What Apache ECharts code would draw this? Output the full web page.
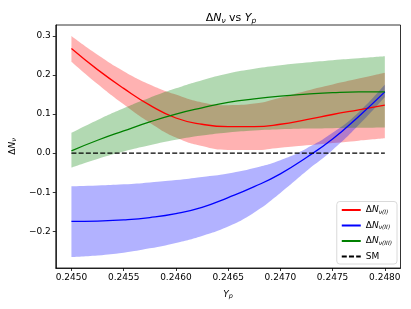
<!DOCTYPE html>
<html>
<head>
<meta charset="utf-8">
<script src="https://cdn.jsdelivr.net/npm/echarts@6/dist/echarts.min.js"></script>
<style>
  html, body { margin: 0; padding: 0; background: #fff; }
  #chart { width: 411px; height: 309px; }
</style>
</head>
<body>
<div id="chart"></div>
<script>
  // Y_p sample points
  var yp = [0.24500, 0.24525, 0.24550, 0.24575, 0.24600, 0.24625, 0.24650,
            0.24675, 0.24700, 0.24725, 0.24750, 0.24775, 0.24800];

  // Delta N_nu(I), red
  var nuI    = [0.268, 0.214, 0.166, 0.123, 0.090, 0.074, 0.068, 0.068, 0.074, 0.086, 0.099, 0.111, 0.123];
  var nuIUp  = [0.300, 0.252, 0.210, 0.176, 0.150, 0.130, 0.123, 0.127, 0.142, 0.160, 0.176, 0.191, 0.206];
  var nuILo  = [0.234, 0.177, 0.125, 0.078, 0.040, 0.018, 0.008, 0.008, 0.014, 0.020, 0.026, 0.032, 0.038];

  // Delta N_nu(II), blue
  var nuII   = [-0.175, -0.174, -0.171, -0.165, -0.155, -0.139, -0.114, -0.086, -0.053, -0.011, 0.036, 0.094, 0.157];
  var nuIIUp = [-0.085, -0.083, -0.080, -0.075, -0.069, -0.061, -0.052, -0.038, -0.018, 0.012, 0.052, 0.105, 0.176];
  var nuIILo = [-0.266, -0.262, -0.255, -0.244, -0.230, -0.212, -0.188, -0.152, -0.102, -0.046, 0.008, 0.072, 0.144];

  // Delta N_nu(III), green
  var nuIII   = [0.006, 0.033, 0.057, 0.080, 0.100, 0.116, 0.130, 0.139, 0.146, 0.151, 0.155, 0.157, 0.157];
  var nuIIIUp = [0.052, 0.085, 0.115, 0.142, 0.166, 0.187, 0.204, 0.216, 0.225, 0.232, 0.238, 0.243, 0.248];
  var nuIIILo = [-0.037, -0.015, 0.004, 0.020, 0.034, 0.045, 0.053, 0.058, 0.061, 0.063, 0.064, 0.065, 0.066];

  var smLevel = 0.0;
  var xTicks = [0.2450, 0.2455, 0.2460, 0.2465, 0.2470, 0.2475, 0.2480];
  var yTicks = [-0.2, -0.1, 0.0, 0.1, 0.2, 0.3];

  var font = 'DejaVu Sans';

  function pairs(ys) {
    return yp.map(function (x, i) { return [x, ys[i]]; });
  }
  // value first so the stack runs on y (stacks by index on a value axis)
  function flipped(ys) {
    return yp.map(function (x, i) { return [ys[i], x]; });
  }
  function band(id, up, lo, color) {
    var width = up.map(function (u, i) { return +(u - lo[i]).toFixed(4); });
    return [{
      type: 'line', stack: id, stackStrategy: 'all', data: flipped(lo),
      encode: { x: 1, y: 0 },
      symbol: 'none', smooth: true, silent: true, z: 1,
      lineStyle: { opacity: 0 }
    }, {
      type: 'line', stack: id, stackStrategy: 'all', data: flipped(width),
      encode: { x: 1, y: 0 },
      symbol: 'none', smooth: true, silent: true, z: 1,
      lineStyle: { opacity: 0 },
      areaStyle: { color: color, opacity: 0.3 }
    }];
  }
  function line(name, ys, color) {
    return {
      name: name, type: 'line', data: pairs(ys), symbol: 'none', smooth: true, z: 3,
      lineStyle: { color: color, width: 1.3 }, itemStyle: { color: color }
    };
  }

  var labels = {
    'I': '{d|Δ}{n|N}{s|ν(I)}',
    'II': '{d|Δ}{n|N}{s|ν(II)}',
    'III': '{d|Δ}{n|N}{s|ν(III)}',
    'SM': 'SM'
  };

  var chart = echarts.init(document.getElementById('chart'));
  var series = []
    .concat(band('b1', nuIUp, nuILo, '#ff0000'))
    .concat(band('b2', nuIIUp, nuIILo, '#0000ff'))
    .concat(band('b3', nuIIIUp, nuIIILo, '#008000'));
  series.push(line('I', nuI, '#ff0000'));
  series.push(line('II', nuII, '#0000ff'));
  series.push(line('III', nuIII, '#008000'));
  series.push({
    name: 'SM', type: 'line', symbol: 'none', z: 3,
    data: [[yp[0], smLevel], [yp[yp.length - 1], smLevel]],
    lineStyle: { color: '#000', width: 1.3, type: [5, 2.2] }, itemStyle: { color: '#000' }
  });

  chart.setOption({
    animation: false,
    backgroundColor: '#fff',
    title: {
      text: '{d|Δ}{n|N}{s|ν}{t| vs }{n|Y}{s|p}',
      left: 226, top: 7, textAlign: 'center',
      textStyle: {
        fontFamily: font, fontSize: 11, fontWeight: 'normal', color: '#000',
        rich: {
          d: { fontFamily: font, fontSize: 11 },
          t: { fontFamily: font, fontSize: 11 },
          n: { fontFamily: font, fontSize: 11, fontStyle: 'italic' },
          s: { fontFamily: font, fontSize: 7.5, fontStyle: 'italic', padding: [5, 0, 0, 0] }
        }
      }
    },
    grid: {
      left: 52, right: 10.5, top: 25, bottom: 41,
      show: true, borderColor: '#000', borderWidth: 0.8, backgroundColor: 'transparent'
    },
    legend: {
      data: ['I', 'II', 'III', 'SM'],
      orient: 'vertical', right: 14, bottom: 45,
      itemWidth: 19, itemHeight: 8, itemGap: 6,
      padding: [4, 5, 3, 4],
      borderColor: '#d0d0d0', borderWidth: 0.8, borderRadius: 3,
      backgroundColor: 'rgba(255,255,255,0.8)',
      itemStyle: { opacity: 0 },
      formatter: function (n) { return labels[n]; },
      textStyle: {
        fontFamily: font, fontSize: 9, color: '#000',
        rich: {
          d: { fontFamily: font, fontSize: 9 },
          n: { fontFamily: font, fontSize: 9, fontStyle: 'italic' },
          s: { fontFamily: font, fontSize: 6, fontStyle: 'italic', padding: [4, 0, 0, 0] }
        }
      }
    },
    xAxis: {
      type: 'value', min: 0.24485, max: 0.24815,
      name: '{n|Y}{s|p}', nameLocation: 'middle', nameGap: 21,
      nameTextStyle: {
        fontFamily: font, fontSize: 9, color: '#000',
        rich: {
          n: { fontFamily: font, fontSize: 9, fontStyle: 'italic' },
          s: { fontFamily: font, fontSize: 6.5, fontStyle: 'italic', padding: [4, 0, 0, 0] }
        }
      },
      axisLine: { show: true, onZero: false, lineStyle: { color: '#000', width: 0.8 } },
      axisTick: { show: true, customValues: xTicks, length: 3, lineStyle: { color: '#000', width: 0.8 } },
      axisLabel: {
        customValues: xTicks, fontFamily: font, fontSize: 9, color: '#000', margin: 5,
        formatter: function (v) { return v.toFixed(4); }
      },
      splitLine: { show: false }
    },
    yAxis: {
      type: 'value', min: -0.2943, max: 0.3283,
      name: '{d|Δ}{n|N}{s|ν}', nameLocation: 'middle', nameGap: 30, nameRotate: 90,
      nameTextStyle: {
        fontFamily: font, fontSize: 9, color: '#000',
        rich: {
          d: { fontFamily: font, fontSize: 9 },
          n: { fontFamily: font, fontSize: 9, fontStyle: 'italic' },
          s: { fontFamily: font, fontSize: 6.5, fontStyle: 'italic', padding: [4, 0, 0, 0] }
        }
      },
      axisLine: { show: true, onZero: false, lineStyle: { color: '#000', width: 0.8 } },
      axisTick: { show: true, customValues: yTicks, length: 3, lineStyle: { color: '#000', width: 0.8 } },
      axisLabel: {
        customValues: yTicks, fontFamily: font, fontSize: 9, color: '#000', margin: 5,
        formatter: function (v) { return (v < -1e-9 ? '\u2212' : '') + Math.abs(v).toFixed(1); }
      },
      splitLine: { show: false }
    },
    series: series
  });
</script>
</body>
</html>
